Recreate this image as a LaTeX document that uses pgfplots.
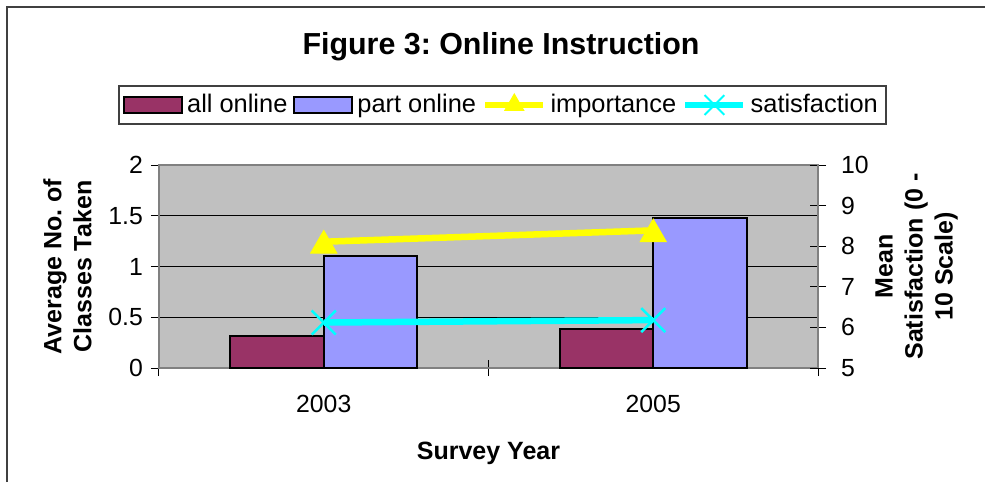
\documentclass[border=0pt]{standalone}
\usepackage{fontspec}
\setmainfont{Liberation Sans}
\usepackage{pgfplots}
\pgfplotsset{compat=1.18}
\definecolor{plum}{HTML}{993366}
\definecolor{peri}{HTML}{9999FF}
\definecolor{plotgray}{HTML}{C0C0C0}
\definecolor{framegray}{HTML}{404040}
\definecolor{xlyellow}{HTML}{FFFF00}
\definecolor{xlcyan}{HTML}{00FFFF}
\pgfplotsset{
  linelegend/.style={legend image code/.code={\draw[mark repeat=2,mark phase=2,##1] plot coordinates {(0pt,0pt)(14.5pt,0pt)(29pt,0pt)};}},
  barlegend/.style={legend image code/.code={\draw[fill=#1, draw=black, line width=1pt] (0pt,-4pt) rectangle (29pt,4pt);}},
}
\frenchspacing
\begin{document}
\begin{tikzpicture}
\useasboundingbox (-79.5pt,-57pt) rectangle (413pt,184pt);
\draw[line width=1pt, framegray] (-75.75pt,-57pt) -- (-75.75pt,180.5pt) -- (413pt,180.5pt);
\node[font=\fontsize{15.2}{18}\selectfont\bfseries] at (171pt,160.5pt) {Figure 3: Online Instruction};
\begin{axis}[
  scale only axis, width=329.5pt, height=101.5pt,
  at={(0pt,0pt)}, anchor=south west,
  xmin=-0.5, xmax=1.5, ymin=0, ymax=2,
  axis background/.style={fill=plotgray},
  axis line style={draw=gray, line width=1pt},
  xtick={0,1}, xticklabels={2003,2005},
  major x tick style={draw=none},
  minor xtick={-0.5,0.5,1.5},
  minor x tick style={draw=black, line width=0.5pt},
  minor tick length=8pt,
  xtick align=center,
  xtick pos=bottom,
  ytick={0,0.5,1,1.5,2},
  ytick pos=left, ytick align=outside,
  major tick length=4pt,
  y tick style={draw=black, line width=0.5pt},
  ymajorgrids, grid style={black, line width=0.5pt},
  /pgf/number format/assume math mode=true,
  tick label style={font=\fontsize{12.4}{15}\selectfont},
  xticklabel style={yshift=-8pt},
  yticklabel style={xshift=-0.5pt},
  xlabel={Survey Year},
  xlabel style={font=\fontsize{12.5}{15}\selectfont\bfseries, yshift=-8pt},
  ylabel={Average No. of\\Classes Taken},
  ylabel style={font=\fontsize{12.5}{15}\selectfont\bfseries, align=center, yshift=1.5pt},
  legend columns=4,
  legend style={at={(0.5212,1.2956)}, anchor=center, draw=framegray, line width=1pt,
    fill=white, font=\fontsize{12.7}{15}\selectfont, inner xsep=2pt, inner ysep=2pt,
    /tikz/every even column/.append style={column sep=1pt}},
  legend cell align=left,
]
\addplot[ybar, bar width=46.8pt, bar shift=-23.4pt, fill=plum, draw=black, line width=1pt, barlegend=plum]
  coordinates {(0,0.32) (1,0.385)};
\addlegendentry{all online}
\addplot[ybar, bar width=46.8pt, bar shift=23.4pt, fill=peri, draw=black, line width=1pt, barlegend=peri]
  coordinates {(0,1.1) (1,1.48)};
\addlegendentry{part online}
\addlegendimage{xlyellow, line width=3.25pt, mark=triangle*, mark size=5.5pt, mark options={fill=xlyellow, draw=xlyellow, line width=0.5pt}, linelegend}
\addlegendentry{importance}
\addlegendimage{xlcyan, line width=3.25pt, mark=x, mark size=7pt, mark options={line width=1pt}, linelegend}
\addlegendentry{satisfaction}
\end{axis}
\begin{axis}[
  scale only axis, width=329.5pt, height=101.5pt,
  at={(0pt,0pt)}, anchor=south west,
  xmin=-0.5, xmax=1.5, ymin=5, ymax=10,
  axis x line=none,
  axis y line*=right,
  y axis line style={draw=gray, line width=1pt},
  ytick={5,6,7,8,9,10},
  ytick align=center, major tick length=8pt,
  y tick style={draw=black, line width=0.5pt},
  /pgf/number format/assume math mode=true,
  tick label style={font=\fontsize{12.4}{15}\selectfont},
  yticklabel style={xshift=4pt},
  ylabel={Mean\\Satisfaction (0 -\\10 Scale)},
  ylabel style={font=\fontsize{12.5}{15}\selectfont\bfseries, align=center, yshift=3.5pt},
  clip=false,
]
\addplot[xlyellow, line width=3.25pt, mark=triangle*, mark size=7.5pt,
  mark options={fill=xlyellow, draw=xlyellow, line width=0.5pt, yshift=-1.9pt}]
  coordinates {(0,8.11) (1,8.39)};
\addplot[xlcyan, line width=3.25pt, mark=x, mark size=8.5pt, mark options={line width=1.25pt}]
  coordinates {(0,6.12) (1,6.18)};
\end{axis}
\end{tikzpicture}
\end{document}
